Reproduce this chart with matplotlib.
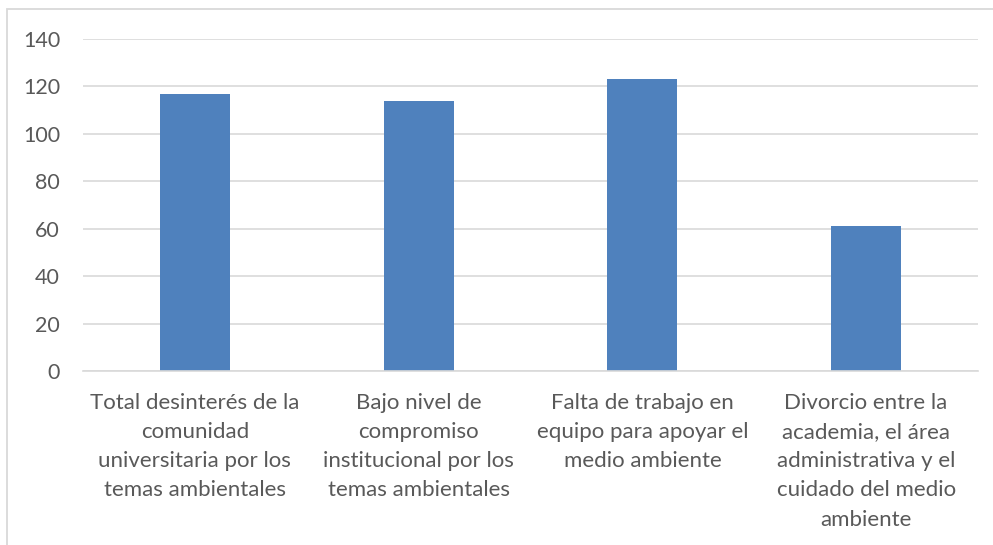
import matplotlib
matplotlib.use("Agg")
import matplotlib.pyplot as plt
from matplotlib.patches import Rectangle

categories = [
    "Total desinterés de la\ncomunidad\nuniversitaria por los\ntemas ambientales",
    "Bajo nivel de\ncompromiso\ninstitucional por los\ntemas ambientales",
    "Falta de trabajo en\nequipo para apoyar el\nmedio ambiente",
    "Divorcio entre la\nacademia, el área\nadministrativa y el\ncuidado del medio\nambiente",
]
values = [117, 114, 123, 61]
yticks = [0, 20, 40, 60, 80, 100, 120, 140]

plt.rcParams['font.family'] = ['Lato', 'DejaVu Sans']
W, H = 993, 545
fig = plt.figure(figsize=(W / 100, H / 100), dpi=100)
ax = fig.add_axes([83 / W, 1 - 371 / H, (978 - 83) / W, (371 - 39) / H])

x = list(range(len(categories)))
ax.bar(x, values, width=0.313, color="#4F81BD", zorder=3)
ax.set_xlim(-0.5, len(categories) - 0.5)
ax.set_ylim(0, 140)
ax.set_yticks(yticks)
ax.set_xticks(x)
ax.set_xticklabels(categories, fontsize=16, color="#595959", linespacing=1.58)
ax.tick_params(axis='y', labelsize=15.5, labelcolor="#595959", length=0, pad=16.5)
ax.tick_params(axis='x', length=0, pad=15.5)
ax.yaxis.grid(True, color="#D9D9D9", linewidth=1.2, zorder=0)
for s in ['top', 'right', 'left']:
    ax.spines[s].set_visible(False)
ax.spines['bottom'].set_color("#D9D9D9")
ax.spines['bottom'].set_linewidth(1.2)
ax.spines['bottom'].set_zorder(4)

fig.patches.append(Rectangle((7 / W, -0.1), 1.2, 1.1 - 9.5 / H, transform=fig.transFigure,
                             fill=False, edgecolor="#D9D9D9", linewidth=1.3))

fig.savefig("out.png", dpi=100)
